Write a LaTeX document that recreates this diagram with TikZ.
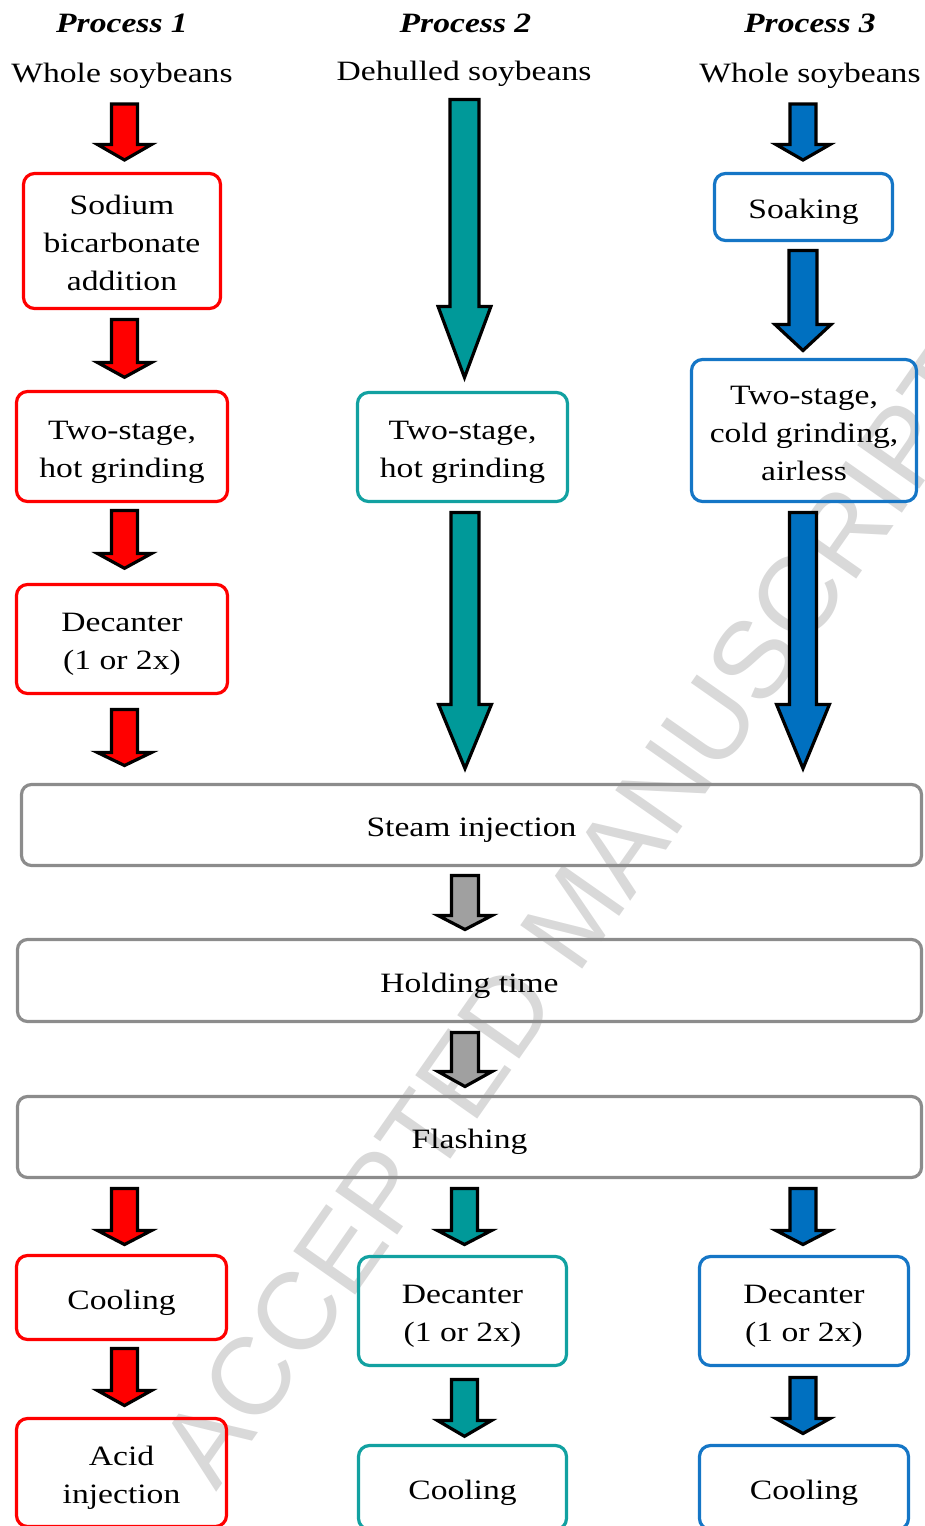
\documentclass[tikz,border=0pt]{standalone}
\usepackage{fontspec}
\setmainfont{Liberation Serif}[FakeStretch=1.2]
\newfontfamily\wmfont{Liberation Sans}
\definecolor{pred}{HTML}{FF0000}
\definecolor{pteal}{HTML}{009999}
\definecolor{ptealbox}{HTML}{12A1A1}
\definecolor{pblue}{HTML}{0070C0}
\definecolor{pbluebox}{HTML}{1576C6}
\definecolor{pgrayline}{HTML}{8C8C8C}
\definecolor{pgrayfill}{HTML}{A0A0A0}
\definecolor{wmgray}{HTML}{D9D9D9}
\newcommand\ls{\rule[-7.5pt]{0pt}{38pt}}
\newcommand\barrow[7]{% color, x, ytop, yhead, ytip, hw, hh
  \draw[blockarrow, fill=#1] ({#2-#6},#3) -- ({#2+#6},#3) -- ({#2+#6},#4) -- ({#2+#7},#4) -- (#2,#5) -- ({#2-#7},#4) -- ({#2-#6},#4) -- cycle;}
\begin{document}
\begin{tikzpicture}[x=1pt,y=-1pt,
  txt/.style={font=\fontsize{28}{38}\selectfont, inner sep=0pt, anchor=base},
  ttl/.style={font=\fontsize{28}{38}\selectfont\bfseries\itshape, inner sep=0pt, anchor=base},
  pbox/.style={draw, rounded corners=11pt, line width=3.2pt, inner sep=0pt, align=center, font=\fontsize{28}{38}\selectfont},
  redbox/.style={pbox, draw=pred},
  tealbox/.style={pbox, draw=ptealbox},
  bluebox/.style={pbox, draw=pbluebox},
  graybox/.style={pbox, draw=pgrayline, rounded corners=10pt},
  blockarrow/.style={draw=black, line width=3.2pt, line join=miter},
  wmark/.style={text=wmgray, font=\wmfont\fontsize{110}{110}\selectfont, inner sep=0pt, rotate=55}
]
\useasboundingbox (0,0) rectangle (925,1526);
\clip (0,0) rectangle (925,1526);

% watermark
\node[wmark] (wm) at (575,915) {ACCEPTED MANUSCRIPT};

% titles and inputs
\node[ttl] (t1) at (122,32) {Process 1};
\node[ttl] (t2) at (465.5,32) {Process 2};
\node[ttl] (t3) at (810,32) {Process 3};
\node[txt] (s1) at (122,82) {Whole soybeans};
\node[txt] (s2) at (464,80) {Dehulled soybeans};
\node[txt] (s3) at (810,82) {Whole soybeans};

% process 1 boxes
\node[redbox, minimum width=197pt, minimum height=135pt] (r1) at (122,241) {\ls Sodium\\\ls bicarbonate\\\ls addition};
\node[redbox, minimum width=211pt, minimum height=110pt] (r2) at (122,446.5) {\ls Two-stage,\\\ls hot grinding};
\node[redbox, minimum width=211pt, minimum height=109pt] (r3) at (122,639) {\ls Decanter\\\ls (1 or 2x)};
\node[redbox, minimum width=210pt, minimum height=84pt] (r4) at (121.5,1297.5) {\ls Cooling};
\node[redbox, minimum width=210pt, minimum height=108pt] (r5) at (121.5,1472.5) {\ls Acid\\\ls injection};

% process 2 boxes
\node[tealbox, minimum width=210pt, minimum height=109pt] (c1) at (462.5,447) {\ls Two-stage,\\\ls hot grinding};
\node[tealbox, minimum width=208pt, minimum height=109pt] (c2) at (462.5,1311) {\ls Decanter\\\ls (1 or 2x)};
\node[tealbox, minimum width=208pt, minimum height=84pt] (c3) at (462.5,1487.5) {\ls Cooling};

% process 3 boxes
\node[bluebox, minimum width=178pt, minimum height=67pt] (b1) at (803.5,207) {\ls Soaking};
\node[bluebox, minimum width=225pt, minimum height=142pt] (b2) at (804,430.5) {\ls Two-stage,\\\ls cold grinding,\\\ls airless};
\node[bluebox, minimum width=209pt, minimum height=109pt] (b3) at (804,1311) {\ls Decanter\\\ls (1 or 2x)};
\node[bluebox, minimum width=209pt, minimum height=84pt] (b4) at (804,1487.5) {\ls Cooling};

% common boxes
\node[graybox, minimum width=900pt, minimum height=81pt] (g1) at (471.5,825) {\ls Steam injection};
\node[graybox, minimum width=904pt, minimum height=82pt] (g2) at (469.5,980.5) {\ls Holding time};
\node[graybox, minimum width=904pt, minimum height=81pt] (g3) at (469.5,1137) {\ls Flashing};

% process 1 arrows
\barrow{pred}{124.5}{104}{144.5}{160}{13}{27}
\barrow{pred}{124.5}{319.5}{362.5}{377.3}{13}{27}
\barrow{pred}{124.5}{510.5}{553.5}{568.3}{13}{27}
\barrow{pred}{124.5}{709.5}{752.5}{765.5}{13}{27}
\barrow{pred}{124.5}{1188.5}{1230.5}{1244.5}{13}{27}
\barrow{pred}{124.5}{1348.5}{1390.5}{1405.5}{13}{27}

% process 2 arrows
\barrow{pteal}{464.5}{99.5}{306.5}{377.5}{14.5}{26.4}
\barrow{pteal}{465}{512.5}{704.5}{768.5}{14}{26.4}
\barrow{pteal}{464.5}{1188.5}{1230.5}{1244.5}{13}{27}
\barrow{pteal}{464.5}{1379.5}{1420.5}{1436.3}{13}{27}

% process 3 arrows
\barrow{pblue}{803}{104}{144.5}{160}{13}{27}
\barrow{pblue}{803}{250.5}{324.5}{350.5}{14}{28}
\barrow{pblue}{803}{512.5}{704.5}{768.5}{13.5}{26.4}
\barrow{pblue}{803}{1188.5}{1230.5}{1244.5}{13}{27}
\barrow{pblue}{803}{1377.5}{1418.5}{1433.5}{13}{27}

% common arrows
\barrow{pgrayfill}{465}{875.5}{915.5}{929.5}{13.5}{27}
\barrow{pgrayfill}{465}{1032.5}{1071.5}{1086.5}{13.5}{27}
\end{tikzpicture}
\end{document}
